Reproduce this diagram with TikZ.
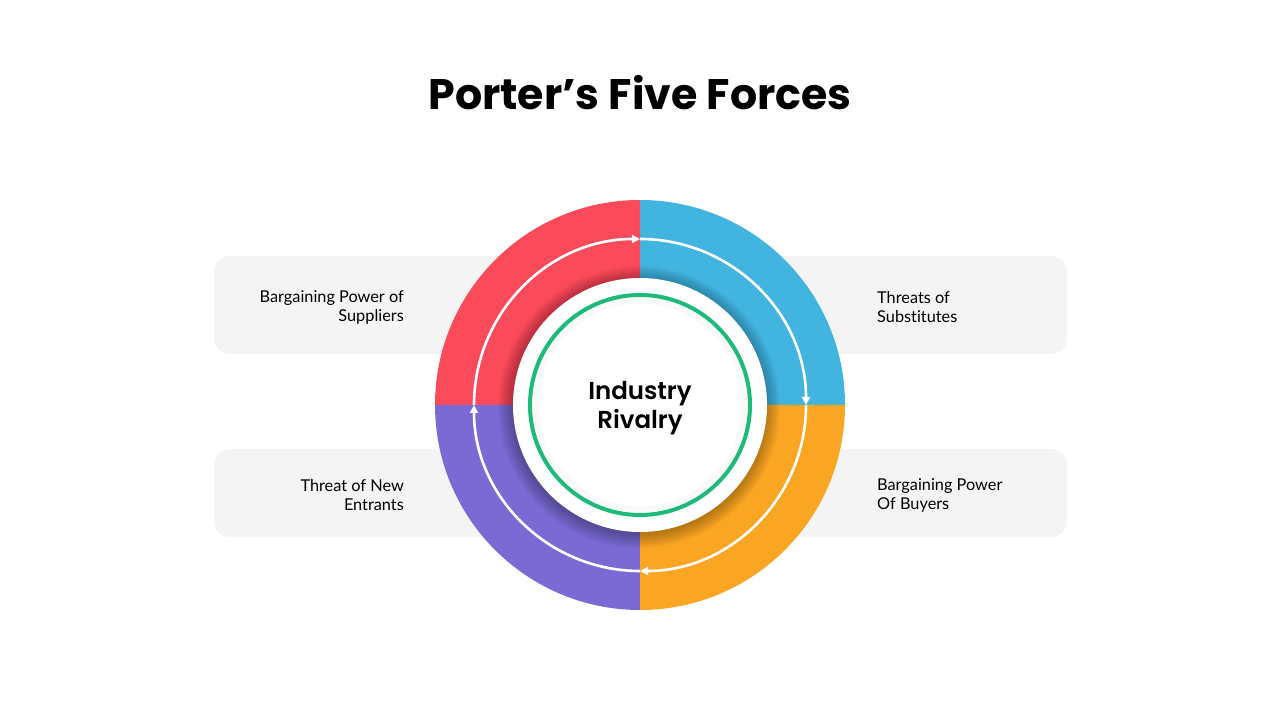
\documentclass[tikz,border=0pt]{standalone}
\usepackage{fontspec}
\setmainfont{Lato}[Ligatures={NoCommon,NoRare,NoDiscretionary}]
\newfontfamily\popfont{Poppins}[BoldFont={* Bold},FontFace={sb}{n}{* SemiBold}]
\usetikzlibrary{arrows.meta,calc}
\definecolor{cred}{HTML}{FB4A5A}
\definecolor{cblue}{HTML}{42B4E0}
\definecolor{corange}{HTML}{FAA622}
\definecolor{cpurple}{HTML}{7B6AD4}
\definecolor{cgreen}{HTML}{1DBA7A}
\definecolor{cbox}{HTML}{F4F4F4}
\tikzset{
  labelbox/.style={fill=cbox, rounded corners=16pt, draw=none},
  forcetext/.style={font=\fontsize{16.3}{19}\selectfont, text=black, inner sep=0pt},
  flowarrow/.style={draw=white, line width=2.6pt, -{Triangle[length=8pt,width=8pt]}},
}
\begin{document}
\begin{tikzpicture}[x=1pt,y=1pt]
\useasboundingbox (0,0) rectangle (1280,720);
\fill[white] (0,0) rectangle (1280,720);
% title
\node[font=\popfont\bfseries\fontsize{42.7}{50}\selectfont, inner sep=0pt] (title) at (640,627) {Porter’s Five Forces};
% boxes
\fill[labelbox] (214,366) rectangle (640,464);
\fill[labelbox] (640,366) rectangle (1067,464);
\fill[labelbox] (214,183) rectangle (640,271);
\fill[labelbox] (640,183) rectangle (1067,271);
\coordinate (C) at (640,315);
% quadrants
\fill[cblue] (C) -- ++(0:205) arc[start angle=0,end angle=90,radius=205] -- cycle;
\fill[cred] (C) -- ++(90:205) arc[start angle=90,end angle=180,radius=205] -- cycle;
\fill[cpurple] (C) -- ++(180:205) arc[start angle=180,end angle=270,radius=205] -- cycle;
\fill[corange] (C) -- ++(270:205) arc[start angle=270,end angle=360,radius=205] -- cycle;
% arrows ring
\draw[flowarrow] (C) ++(180:166) arc[start angle=180,end angle=90,radius=166];
\draw[flowarrow] (C) ++(90:166) arc[start angle=90,end angle=0,radius=166];
\draw[flowarrow] (C) ++(0:166) arc[start angle=0,end angle=-90,radius=166];
\draw[flowarrow] (C) ++(-90:166) arc[start angle=-90,end angle=-180,radius=166];
% shadow of the inner disk
\foreach \r in {1,...,14} {
  \fill[black, opacity=0.018] ($(C)+(-1,-2)$) circle[radius=127+\r];
}
\fill[white] (C) circle[radius=127];
% inner subtle shadow
\foreach \r in {1,...,6} {
  \draw[black, opacity=0.02, line width=1pt] (C) circle[radius=108-\r];
}
\draw[cgreen, line width=4pt] (C) circle[radius=110];
\node[font=\popfont\fontseries{sb}\selectfont\fontsize{24.5}{29}\selectfont, align=center, inner sep=0pt] (center) at (640,312) {Industry\\Rivalry};
% labels
\node[forcetext, anchor=east, align=right] (tl) at (404,412.5) {Bargaining Power of\\Suppliers};
\node[forcetext, anchor=west, align=left] (tr) at (877,412.5) {Threats of\\Substitutes};
\node[forcetext, anchor=east, align=right] (bl) at (404,224.5) {Threat of New\\Entrants};
\node[forcetext, anchor=west, align=left] (br) at (877,224.5) {Bargaining Power\\Of Buyers};
\end{tikzpicture}
\end{document}
